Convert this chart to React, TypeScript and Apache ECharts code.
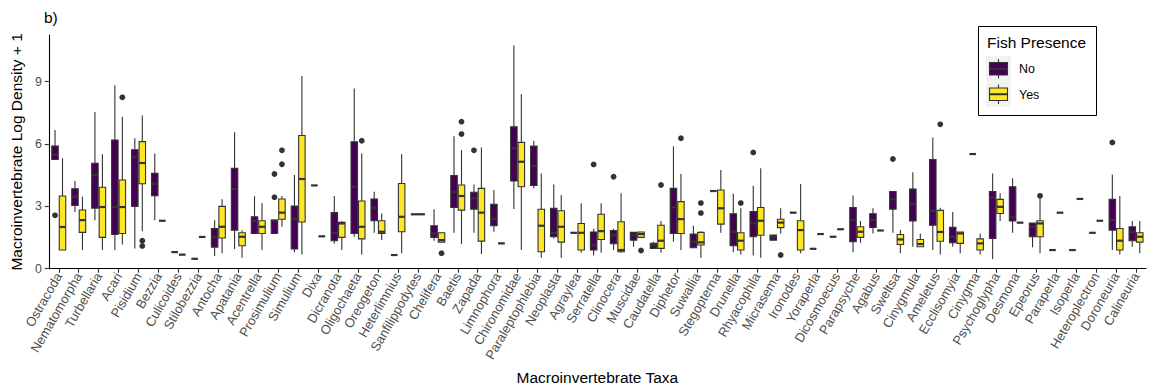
import React, { useEffect, useRef } from "react";
import * as echarts from "echarts";

// ---------- data ----------
const taxa: string[] = [
  "Ostracoda", "Nematomorpha", "Turbellaria", "Acari", "Pisidium", "Bezzia", "Culicoides",
  "Stilobezzia", "Antocha", "Apatania", "Acentrella", "Prosimulium", "Simulium", "Dixa",
  "Dicranota", "Oligochaeta", "Oreogeton", "Heterlimnius", "Sanfilippodytes", "Chelifera",
  "Baetis", "Zapada", "Limnophora", "Chironomidae", "Paraleptophlebia", "Neoplasta",
  "Agraylea", "Serratella", "Clinocera", "Muscidae", "Caudatella", "Diphetor", "Suwallia",
  "Stegopterna", "Drunella", "Rhyacophila", "Micrasema", "Ironodes", "Yoraperla",
  "Dicosmoecus", "Parapsyche", "Agabus", "Sweltsa", "Cinygmula", "Ameletus", "Ecclisomyia",
  "Cinygma", "Psychoglypha", "Desmona", "Epeorus", "Paraperla", "Isoperla",
  "Heteroplectron", "Doroneuria", "Calineuria",
];

// [lower whisker, Q1, median, Q3, upper whisker] for fish presence = No
const noStats: (number[] | null)[] = [
  [5.26, 5.26, 5.49, 5.91, 6.68], // Ostracoda
  [2.73, 3.05, 3.47, 3.85, 4.22], // Nematomorpha
  [2.34, 2.92, 4.51, 5.07, 7.54], // Turbellaria
  [0.9, 1.65, 2.97, 6.2, 8.83], // Acari
  [0.98, 3.0, 5.39, 5.73, 6.28], // Pisidium
  [2.34, 3.52, 4.09, 4.59, 5.55], // Bezzia
  [0.8, 0.8, 0.8, 0.8, 0.8], // Culicoides
  [0.48, 0.48, 0.48, 0.48, 0.48], // Stilobezzia
  [0.61, 1.04, 1.54, 1.94, 2.34], // Antocha
  [0.95, 1.86, 3.84, 4.83, 6.57], // Apatania
  [1.7, 1.7, 2.3, 2.5, 3.49], // Acentrella
  [1.7, 1.7, 2.31, 2.34, 2.34], // Prosimulium
  [0.79, 0.95, 2.38, 3.02, 4.51], // Simulium
  [4.01, 4.01, 4.01, 4.01, 4.01], // Dixa
  [1.22, 1.35, 1.73, 2.7, 3.5], // Dicranota
  [1.54, 1.7, 3.95, 6.11, 8.68], // Oligochaeta
  [1.73, 2.31, 2.94, 3.36, 3.71], // Oreogeton
  [0.66, 0.66, 0.66, 0.66, 0.66], // Heterlimnius
  [2.62, 2.62, 2.62, 2.62, 2.62], // Sanfilippodytes
  [1.35, 1.51, 1.7, 2.07, 2.86], // Chelifera
  [1.73, 2.95, 3.68, 4.48, 6.38], // Baetis
  [1.73, 2.87, 3.4, 3.68, 4.06], // Zapada
  [1.78, 2.07, 2.39, 3.1, 3.79], // Limnophora
  [2.87, 4.22, 5.79, 6.83, 10.74], // Chironomidae
  [3.87, 4.01, 4.94, 5.9, 6.16], // Paraleptophlebia
  [1.46, 1.54, 1.73, 2.91, 4.06], // Neoplasta
  [1.73, 1.73, 1.73, 1.73, 1.73], // Agraylea
  [0.64, 0.9, 1.14, 1.77, 1.93], // Serratella
  [0.9, 1.2, 1.61, 1.84, 1.93], // Clinocera
  [1.06, 1.38, 1.62, 1.75, 1.75], // Muscidae
  [0.98, 0.98, 1.14, 1.22, 1.3], // Caudatella
  [1.3, 1.7, 2.95, 3.87, 5.89], // Diphetor
  [1.01, 1.01, 1.3, 1.67, 2.07], // Suwallia
  [3.74, 3.74, 3.74, 3.74, 3.74], // Stegopterna
  [0.8, 1.11, 1.78, 2.65, 3.61], // Drunella
  [0.64, 1.54, 2.18, 2.75, 3.99], // Rhyacophila
  [1.35, 1.38, 1.51, 1.62, 1.62], // Micrasema
  [2.7, 2.7, 2.7, 2.7, 2.7], // Ironodes
  [0.96, 0.96, 0.96, 0.96, 0.96], // Yoraperla
  [1.54, 1.54, 1.54, 1.54, 1.54], // Dicosmoecus
  [0.8, 1.3, 2.34, 2.95, 3.53], // Parapsyche
  [1.7, 1.99, 2.34, 2.65, 2.91], // Agabus
  [1.73, 2.87, 3.34, 3.72, 3.72], // Sweltsa
  [1.06, 2.3, 3.1, 3.84, 4.65], // Cinygmula
  [0.9, 2.09, 2.79, 5.26, 6.32], // Ameletus
  [1.06, 1.25, 1.54, 1.99, 2.73], // Ecclisomyia
  [5.52, 5.52, 5.52, 5.52, 5.52], // Cinygma
  [0.47, 1.46, 3.43, 3.72, 4.59], // Psychoglypha
  [1.73, 2.3, 2.47, 3.95, 4.35], // Desmona
  [1.03, 1.54, 2.02, 2.2, 2.2], // Epeorus
  [0.9, 0.9, 0.9, 0.9, 0.9], // Paraperla
  [0.9, 0.9, 0.9, 0.9, 0.9], // Isoperla
  [1.73, 1.73, 1.73, 1.73, 1.73], // Heteroplectron
  [0.9, 1.86, 2.34, 3.34, 4.54], // Doroneuria
  [1.06, 1.35, 1.77, 2.02, 2.3], // Calineuria
];

// [lower whisker, Q1, median, Q3, upper whisker] for fish presence = Yes
const yesStats: (number[] | null)[] = [
  [0.9, 0.9, 2.01, 3.5, 5.31], // Ostracoda
  [0.9, 1.75, 2.34, 2.83, 3.47], // Nematomorpha
  [0.9, 1.51, 2.97, 3.92, 5.51], // Turbellaria
  [1.17, 1.7, 2.97, 4.27, 7.32], // Acari
  [1.81, 4.09, 5.09, 6.12, 7.38], // Pisidium
  [2.31, 2.31, 2.31, 2.31, 2.31], // Bezzia
  [0.68, 0.68, 0.68, 0.68, 0.68], // Culicoides
  [1.53, 1.53, 1.53, 1.53, 1.53], // Stilobezzia
  [0.74, 1.48, 2.02, 3.0, 3.34], // Antocha
  [0.53, 1.11, 1.54, 1.73, 1.85], // Apatania
  [0.9, 1.7, 2.02, 2.31, 3.15], // Acentrella
  [2.02, 2.38, 2.7, 3.36, 3.5], // Prosimulium
  [0.69, 2.25, 4.32, 6.41, 9.28], // Simulium
  [1.56, 1.56, 1.56, 1.56, 1.56], // Dixa
  [0.9, 1.51, 2.18, 2.23, 2.3], // Dicranota
  [0.69, 1.44, 2.02, 3.26, 5.55], // Oligochaeta
  [1.38, 1.7, 1.78, 2.31, 2.66], // Oreogeton
  [0.74, 1.78, 2.5, 4.1, 5.52], // Heterlimnius
  null, // Sanfilippodytes
  [1.28, 1.28, 1.38, 1.73, 1.73], // Chelifera
  [1.19, 2.82, 3.5, 4.03, 5.71], // Baetis
  [0.71, 1.33, 2.7, 3.87, 5.84], // Zapada
  [1.22, 1.22, 1.22, 1.22, 1.22], // Limnophora
  [0.9, 3.95, 5.15, 6.08, 8.4], // Chironomidae
  [0.53, 0.82, 2.07, 2.86, 4.59], // Paraleptophlebia
  [0.53, 1.28, 2.02, 2.79, 3.55], // Neoplasta
  [0.77, 0.9, 1.73, 2.18, 3.15], // Agraylea
  [0.77, 1.41, 1.81, 2.62, 3.15], // Serratella
  [0.77, 0.82, 0.9, 2.26, 3.63], // Clinocera
  [1.51, 1.51, 1.67, 1.77, 1.77], // Muscidae
  [0.77, 0.98, 1.35, 2.09, 2.3], // Caudatella
  [0.9, 1.7, 2.39, 3.23, 4.56], // Diphetor
  [0.53, 1.14, 1.27, 1.75, 1.8], // Suwallia
  [1.73, 2.15, 2.91, 3.79, 4.75], // Stegopterna
  [0.69, 0.9, 1.35, 1.73, 2.91], // Drunella
  [0.53, 1.61, 2.31, 2.95, 4.84], // Rhyacophila
  [1.7, 1.98, 2.22, 2.38, 2.91], // Micrasema
  [0.74, 0.9, 1.86, 2.31, 4.08], // Ironodes
  [1.67, 1.67, 1.67, 1.67, 1.67], // Yoraperla
  [1.9, 1.9, 1.9, 1.9, 1.9], // Dicosmoecus
  [1.25, 1.51, 1.78, 2.02, 2.3], // Parapsyche
  [1.84, 1.84, 1.84, 1.84, 1.84], // Agabus
  [0.74, 1.17, 1.41, 1.65, 1.86], // Sweltsa
  [1.06, 1.06, 1.19, 1.41, 1.7], // Cinygmula
  [0.69, 1.32, 1.77, 2.81, 2.94], // Ameletus
  [0.74, 1.22, 1.7, 1.77, 1.77], // Ecclisomyia
  [0.69, 0.9, 1.22, 1.44, 1.7], // Cinygma
  [2.3, 2.66, 2.98, 3.34, 3.63], // Psychoglypha
  [2.22, 2.22, 2.22, 2.22, 2.22], // Desmona
  [0.74, 1.54, 2.18, 2.31, 3.4], // Epeorus
  [2.7, 2.7, 2.7, 2.7, 2.7], // Paraperla
  [3.36, 3.36, 3.36, 3.36, 3.36], // Isoperla
  [2.31, 2.31, 2.31, 2.31, 2.31], // Heteroplectron
  [0.69, 0.9, 1.35, 1.94, 3.5], // Doroneuria
  [0.74, 1.28, 1.54, 1.73, 2.3], // Calineuria
];

// outliers: [taxon, value]
const noOutliers: [string, number][] = [
  ["Ostracoda", 2.57], ["Prosimulium", 4.56], ["Prosimulium", 3.44], ["Zapada", 5.7],
  ["Serratella", 5.02], ["Clinocera", 4.43], ["Rhyacophila", 5.6], ["Sweltsa", 5.28],
  ["Doroneuria", 6.08],
];
const yesOutliers: [string, number][] = [
  ["Acari", 8.25], ["Pisidium", 1.35], ["Pisidium", 1.1], ["Prosimulium", 5.7],
  ["Prosimulium", 5.03], ["Oligochaeta", 6.16], ["Chelifera", 0.75], ["Baetis", 7.08],
  ["Baetis", 6.48], ["Muscidae", 0.88], ["Caudatella", 4.03], ["Diphetor", 6.28],
  ["Suwallia", 3.16], ["Suwallia", 2.68], ["Drunella", 3.16], ["Micrasema", 0.66],
  ["Ameletus", 6.95], ["Epeorus", 3.51],
];

const groups = ["No", "Yes"];
const groupColors = ["#440154", "#FDE725"];
const yTicks = [0, 3, 6, 9];

// ---------- chart ----------
const FONT = "'Liberation Sans', Arial, Helvetica, sans-serif";
const EDGE = "#333333";

function posOf(i: number, g: number): number {
  const single = !noStats[i] || !yesStats[i];
  return single ? 0 : g === 0 ? -1 : 1;
}

function buildBoxes() {
  const items: any[] = [];
  taxa.forEach((_, i) => {
    [noStats[i], yesStats[i]].forEach((s, g) => {
      if (s) items.push([i, posOf(i, g), s[0], s[1], s[2], s[3], s[4], g]);
    });
  });
  return items;
}

function buildOutliers() {
  const items: any[] = [];
  [noOutliers, yesOutliers].forEach((list, g) => {
    list.forEach(([name, v]) => {
      const i = taxa.indexOf(name);
      items.push([i, posOf(i, g), v]);
    });
  });
  return items;
}

function legendGraphic() {
  const x0 = 978;
  const y0 = 26;
  const children: any[] = [
    { type: "rect", shape: { x: x0 + 0.5, y: y0 + 0.5, width: 118, height: 89 }, style: { fill: "#fff", stroke: "#000", lineWidth: 1 } },
    { type: "text", style: { x: x0 + 9, y: y0 + 16, text: "Fish Presence", font: `15.5px ${FONT}`, fill: "#000", verticalAlign: "middle" } },
  ];
  groups.forEach((g, k) => {
    const ky = y0 + 30 + k * 25.5;
    const cx = x0 + 20.5;
    children.push(
      { type: "rect", shape: { x: x0 + 8, y: ky, width: 25, height: 25.5 }, style: { fill: "#F2F2F2" } },
      { type: "line", shape: { x1: cx, y1: ky + 3, x2: cx, y2: ky + 22.5 }, style: { stroke: EDGE, lineWidth: 1.1 } },
      { type: "rect", shape: { x: x0 + 11.5, y: ky + 6.5, width: 18, height: 12.5 }, style: { fill: groupColors[k], stroke: EDGE, lineWidth: 1.1 } },
      { type: "line", shape: { x1: x0 + 11.5, y1: ky + 12.75, x2: x0 + 29.5, y2: ky + 12.75 }, style: { stroke: EDGE, lineWidth: 2 } },
      { type: "text", style: { x: x0 + 41, y: ky + 13, text: g, font: `12.4px ${FONT}`, fill: "#000", verticalAlign: "middle" } },
    );
  });
  return { type: "group", children };
}

export default function App() {
  const ref = useRef<HTMLDivElement>(null);
  useEffect(() => {
    if (!ref.current) return;
    const chart = echarts.init(ref.current, undefined, { renderer: "svg" });
    const option: any = {
      animation: false,
      backgroundColor: "#ffffff",
      textStyle: { fontFamily: FONT },
      grid: { left: 46, right: 4, top: 35, bottom: 121 },
      xAxis: {
        type: "category",
        data: taxa,
        boundaryGap: true,
        name: "Macroinvertebrate Taxa",
        nameLocation: "middle",
        nameGap: 100,
        nameTextStyle: { color: "#000", fontSize: 15.5, fontFamily: FONT },
        axisLine: { show: true, lineStyle: { color: "#000", width: 1.1 } },
        axisTick: { show: true, alignWithLabel: true, interval: 0, length: 4, lineStyle: { color: EDGE, width: 1.1 } },
        axisLabel: { interval: 0, rotate: 60, color: "#4D4D4D", fontSize: 13, fontFamily: FONT, margin: 5 },
        splitLine: { show: false },
      },
      yAxis: {
        type: "value",
        min: 0,
        max: 11.25,
        interval: 3,
        name: "Macroinvertebrate Log Density + 1",
        nameLocation: "middle",
        nameRotate: 90,
        nameGap: 22,
        nameTextStyle: { color: "#000", fontSize: 15.5, fontFamily: FONT },
        axisLine: { show: true, lineStyle: { color: "#000", width: 1.1 } },
        axisTick: { show: true, length: 4, lineStyle: { color: EDGE, width: 1.1 } },
        axisLabel: {
          color: "#4D4D4D", fontSize: 12.4, fontFamily: FONT, margin: 7, showMaxLabel: false,
          formatter: (v: number) => (yTicks.includes(v) ? String(v) : ""),
        },
        splitLine: { show: false },
      },
      series: [
        {
          type: "custom",
          name: "boxes",
          data: buildBoxes(),
          encode: { x: 0, y: [2, 3, 4, 5, 6] },
          renderItem: (params: any, api: any) => {
            const cat = api.value(0);
            const pos = api.value(1);
            const g = api.value(7);
            const band = api.size([1, 0])[0];
            const base = api.coord([cat, 0]);
            const cx = base[0] + pos * band * 0.1875;
            const half = pos === 0 ? band * 0.375 : band * 0.1875;
            const y = (k: number) => api.coord([cat, api.value(k)])[1];
            const yLo = y(2), yQ1 = y(3), yMed = y(4), yQ3 = y(5), yHi = y(6);
            const lineStyle = { stroke: EDGE, lineWidth: 1.1 };
            return {
              type: "group",
              children: [
                { type: "line", shape: { x1: cx, y1: yHi, x2: cx, y2: yQ3 }, style: lineStyle },
                { type: "line", shape: { x1: cx, y1: yQ1, x2: cx, y2: yLo }, style: lineStyle },
                {
                  type: "rect",
                  shape: { x: cx - half + 0.5, y: yQ3, width: 2 * half - 1, height: Math.max(yQ1 - yQ3, 0) },
                  style: { fill: groupColors[g], stroke: EDGE, lineWidth: 1.1 },
                },
                { type: "line", shape: { x1: cx - half + 0.5, y1: yMed, x2: cx + half - 0.5, y2: yMed }, style: { stroke: EDGE, lineWidth: 2.2 } },
              ],
            };
          },
          z: 2,
        },
        {
          type: "custom",
          name: "outliers",
          data: buildOutliers(),
          encode: { x: 0, y: 2 },
          renderItem: (params: any, api: any) => {
            const cat = api.value(0);
            const pos = api.value(1);
            const band = api.size([1, 0])[0];
            const p = api.coord([cat, api.value(2)]);
            return {
              type: "circle",
              shape: { cx: p[0] + pos * band * 0.1875, cy: p[1], r: 2.9 },
              style: { fill: EDGE },
            };
          },
          z: 3,
        },
      ],
      graphic: [
        { type: "text", left: 44, top: 9, style: { text: "b)", font: `15.5px ${FONT}`, fill: "#000" } },
        legendGraphic(),
      ],
    };
    chart.setOption(option);
    return () => chart.dispose();
  }, []);
  return <div ref={ref} style={{ width: 1150, height: 390, position: "absolute", left: 0, top: 0 }} />;
}
